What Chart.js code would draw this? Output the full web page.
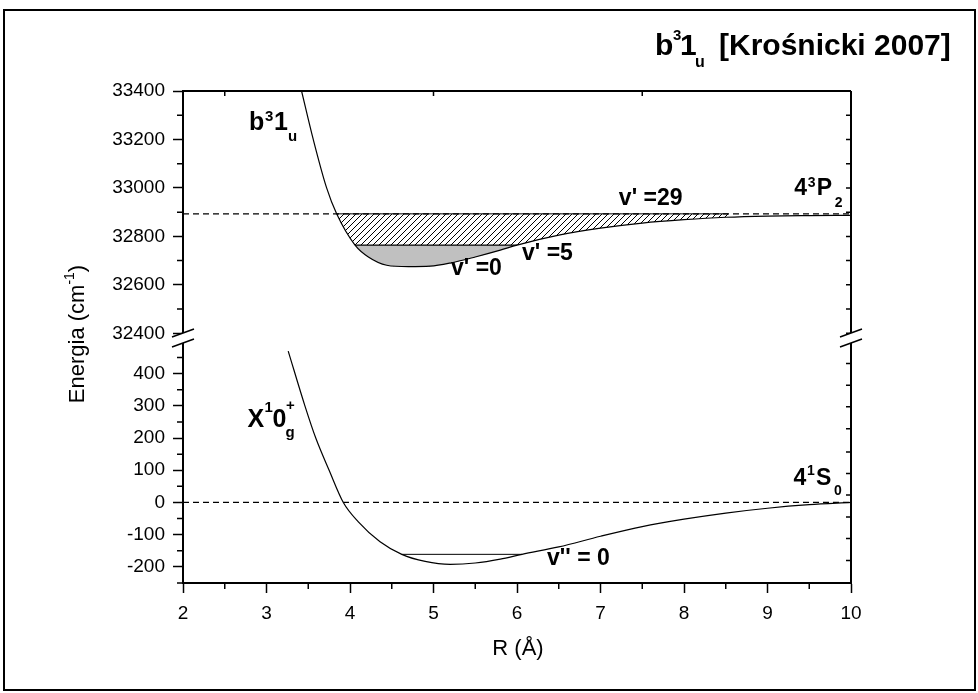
<!DOCTYPE html>
<html>
<head>
<meta charset="utf-8">
<title>b3 1u [Krośnicki 2007]</title>
<script src="https://cdn.jsdelivr.net/npm/chart.js@4.4.1/dist/chart.umd.min.js"></script>
<style>
  html, body { margin: 0; padding: 0; background: #fff; }
  canvas { display: block; }
</style>
</head>
<body>
<canvas id="chart" width="978" height="693"></canvas>
<script>
// b3 1u potential, upper panel (R in Angstrom, energy in cm-1)
const upperR = [3.42, 3.56, 3.72, 3.84, 4.06, 4.22, 4.44, 4.7, 4.96, 5.2, 5.5, 5.8, 6.0, 6.5, 7.0, 7.5, 8.0, 8.5, 9.0, 9.5, 10];
const upperE = [33400, 33200, 33000, 32893, 32764, 32715, 32681, 32675, 32677, 32690, 32715, 32743, 32764, 32805, 32834, 32855, 32869, 32879, 32884, 32886, 32887];

// X1 0g+ potential, lower panel
const lowerR = [3.26, 3.46, 3.59, 3.75, 3.92, 4.1, 4.36, 4.62, 4.9, 5.2, 5.5, 5.8, 6.06, 6.5, 7.0, 7.5, 8.0, 8.5, 9.0, 9.5, 10];
const lowerE = [470, 300, 200, 100, 0, -60, -122, -161, -183, -192, -188, -176, -161, -138, -105, -75, -52, -33, -18, -7, 0];

// asymptotes (4 3P2 and 4 1S0)
const limitR = [2, 10];
const upperLimit = 32893;
const lowerLimit = 0;

// vibrational levels
const v29R = [3.84, 8.53];
const v29E = 32893;
const v5R = [4.06, 6.0];
const v5E = 32764;
const v0ppR = [4.62, 6.06];
const v0ppE = -161;

// ticks
const xTicks = [2, 3, 4, 5, 6, 7, 8, 9, 10];
const xMinor = [2.5, 3.5, 4.5, 5.5, 6.5, 7.5, 8.5, 9.5];
const topTicks = [2.5, 5, 7.5];
const upperTicks = [32400, 32600, 32800, 33000, 33200, 33400];
const upperMinor = [32500, 32700, 32900, 33100, 33300];
const lowerTicks = [-200, -100, 0, 100, 200, 300, 400];
const lowerMinor = [-250, -150, -50, 50, 150, 250, 350, 450];
const rightLowerTicks = [-250, -180, -112, -45, 23, 90, 157, 229, 297, 364, 431];

const FONT = '"Liberation Sans", Arial, sans-serif';

const pts = (xs, ys) => xs.map((x, i) => ({x: x, y: ys[i]}));
const flat = (xs, e) => xs.map(x => ({x: x, y: e}));

// hatch for v'=5..29 region
function makeHatch() {
    const c = document.createElement('canvas');
    c.width = 6; c.height = 6;
    const g = c.getContext('2d');
    g.strokeStyle = '#000';
    g.lineWidth = 1;
    g.beginPath();
    g.moveTo(-1, 7); g.lineTo(7, -1);
    g.moveTo(-4, 4); g.lineTo(4, -4);
    g.moveTo(2, 10); g.lineTo(10, 2);
    g.stroke();
    return g.createPattern(c, 'repeat');
}

function drawRich(ctx, x, y, parts, weight) {
    parts.forEach(p => {
        ctx.font = weight + ' ' + p.s + 'px ' + FONT;
        ctx.fillText(p.t, x + p.dx, y + p.dy);
    });
}

const decor = {
    id: 'decor',
    afterDraw(chart) {
        const ctx = chart.ctx;
        const a = chart.chartArea;
        const sx = chart.scales.x, sy = chart.scales.y, sy2 = chart.scales.y2;
        ctx.save();
        ctx.strokeStyle = '#000';
        ctx.fillStyle = '#000';

        // outer frame
        ctx.lineWidth = 2;
        ctx.strokeRect(4, 10, 971, 680);

        // top and right axis lines
        ctx.beginPath();
        ctx.moveTo(a.left, a.top); ctx.lineTo(a.right, a.top);
        ctx.moveTo(a.right, a.top); ctx.lineTo(a.right, a.bottom);
        ctx.stroke();

        // minor ticks and inner ticks
        ctx.lineWidth = 1.5;
        ctx.beginPath();
        upperMinor.forEach(v => { const p = sy.getPixelForValue(v); ctx.moveTo(a.left - 6, p); ctx.lineTo(a.left, p); });
        lowerMinor.forEach(v => { const p = sy2.getPixelForValue(v); ctx.moveTo(a.left - 6, p); ctx.lineTo(a.left, p); });
        xMinor.forEach(v => { const p = sx.getPixelForValue(v); ctx.moveTo(p, a.bottom); ctx.lineTo(p, a.bottom + 6); });
        topTicks.forEach(v => { const p = sx.getPixelForValue(v); ctx.moveTo(p, a.top); ctx.lineTo(p, a.top + 5); });
        upperTicks.concat(upperMinor).forEach(v => { const p = sy.getPixelForValue(v); ctx.moveTo(a.right - 5, p); ctx.lineTo(a.right, p); });
        rightLowerTicks.forEach(v => { const p = sy2.getPixelForValue(v); ctx.moveTo(a.right - 5, p); ctx.lineTo(a.right, p); });
        ctx.stroke();

        // axis breaks
        const yb = sy.bottom - 5;
        [a.left, a.right].forEach(xb => {
            ctx.fillStyle = '#fff';
            ctx.beginPath();
            ctx.moveTo(xb - 11, yb - 1);
            ctx.lineTo(xb + 11, yb - 9);
            ctx.lineTo(xb + 11, yb + 1);
            ctx.lineTo(xb - 11, yb + 9);
            ctx.closePath();
            ctx.fill();
            ctx.lineWidth = 1.5;
            ctx.beginPath();
            ctx.moveTo(xb - 11, yb - 1); ctx.lineTo(xb + 11, yb - 9);
            ctx.moveTo(xb - 11, yb + 9); ctx.lineTo(xb + 11, yb + 1);
            ctx.stroke();
        });

        ctx.fillStyle = '#000';
        ctx.textAlign = 'left';
        ctx.textBaseline = 'alphabetic';

        // title
        drawRich(ctx, 655, 55, [
            {t: 'b', s: 30, dx: 0, dy: 0},
            {t: '3', s: 15, dx: 18, dy: -15},
            {t: '1', s: 30, dx: 25, dy: 0},
            {t: 'u', s: 16, dx: 40, dy: 12},
            {t: '[Krośnicki 2007]', s: 30, dx: 64, dy: 0}
        ], 'bold');

        // state labels
        const at = (s, r, e) => [sx.getPixelForValue(r), s.getPixelForValue(e)];
        let p = at(sy, 2.79, 33239);
        drawRich(ctx, p[0], p[1], [
            {t: 'b', s: 25, dx: 0, dy: 0},
            {t: '3', s: 15, dx: 16, dy: -9},
            {t: '1', s: 25, dx: 25, dy: 0},
            {t: 'u', s: 15, dx: 39, dy: 11}
        ], 'bold');
        p = at(sy2, 2.772, 234);
        drawRich(ctx, p[0], p[1], [
            {t: 'X', s: 25, dx: 0, dy: 0},
            {t: '1', s: 15, dx: 17, dy: -15},
            {t: '0', s: 25, dx: 25, dy: 0},
            {t: '+', s: 15, dx: 38.5, dy: -17},
            {t: 'g', s: 15, dx: 38, dy: 10}
        ], 'bold');
        p = at(sy, 9.32, 32970);
        drawRich(ctx, p[0], p[1], [
            {t: '4', s: 23, dx: 0, dy: 0},
            {t: '3', s: 14, dx: 13.5, dy: -8},
            {t: 'P', s: 23, dx: 22.5, dy: 0},
            {t: '2', s: 14, dx: 40.5, dy: 12}
        ], 'bold');
        p = at(sy2, 9.31, 53.7);
        drawRich(ctx, p[0], p[1], [
            {t: '4', s: 23, dx: 0, dy: 0},
            {t: '1', s: 14, dx: 13.5, dy: -10},
            {t: 'S', s: 23, dx: 22.5, dy: 0},
            {t: '0', s: 14, dx: 40.5, dy: 10}
        ], 'bold');

        // vibrational level labels
        [[sy, 7.22, 32929, "v' =29"], [sy, 6.06, 32702, "v' =5"], [sy, 5.21, 32640, "v' =0"], [sy2, 6.36, -194.7, "v'' = 0"]]
            .forEach(l => {
                const q = at(l[0], l[1], l[2]);
                drawRich(ctx, q[0], q[1], [{t: l[3], s: 23, dx: 0, dy: 0}], 'bold');
            });

        // axis titles
        ctx.font = '22px ' + FONT;
        ctx.textAlign = 'center';
        ctx.fillText('R (Å)', 518, 655);

        ctx.translate(84, 334);
        ctx.rotate(-Math.PI / 2);
        ctx.textAlign = 'left';
        const yParts = [{t: 'Energia (cm', s: 22, dy: 0}, {t: '-1', s: 14, dy: -10}, {t: ')', s: 22, dy: 0}];
        let w = 0;
        yParts.forEach(q => { ctx.font = q.s + 'px ' + FONT; w += ctx.measureText(q.t).width; });
        let cx = -w / 2;
        yParts.forEach(q => {
            ctx.font = q.s + 'px ' + FONT;
            ctx.fillText(q.t, cx, q.dy);
            cx += ctx.measureText(q.t).width;
        });
        ctx.restore();
    }
};

const tickFont = {family: FONT, size: 19};
const gridOpts = {drawOnChartArea: false, tickLength: 10, color: '#000', tickWidth: 1.5};
const borderOpts = {color: '#000', width: 2};

const lineStyle = {borderColor: '#000', borderWidth: 1.2, pointRadius: 0, fill: false};

new Chart(document.getElementById('chart'), {
    type: 'line',
    data: {
        datasets: [
            Object.assign({label: 'b3 1u', data: pts(upperR, upperE), yAxisID: 'y', cubicInterpolationMode: 'monotone', order: 1}, lineStyle),
            Object.assign({label: 'X1 0g+', data: pts(lowerR, lowerE), yAxisID: 'y2', cubicInterpolationMode: 'monotone', order: 1}, lineStyle),
            Object.assign({label: '4 3P2', data: flat(limitR, upperLimit), yAxisID: 'y', borderDash: [6, 4], order: 1}, lineStyle),
            Object.assign({label: '4 1S0', data: flat(limitR, lowerLimit), yAxisID: 'y2', borderDash: [6, 4], order: 1}, lineStyle),
            Object.assign({label: "v'' = 0", data: flat(v0ppR, v0ppE), yAxisID: 'y2', order: 1}, lineStyle, {borderWidth: 1}),
            Object.assign({label: "v' = 5", data: flat(v5R, v5E), yAxisID: 'y', order: 3}, lineStyle,
                {fill: {target: 0}, backgroundColor: '#c0c0c0'}),
            Object.assign({label: "v' = 29", data: flat(v29R, v29E), yAxisID: 'y', order: 4}, lineStyle,
                {borderWidth: 1, fill: {target: 0}, backgroundColor: makeHatch()})
        ]
    },
    options: {
        responsive: false,
        animation: false,
        events: [],
        layout: {padding: {left: 0, top: 91, right: 127, bottom: 0}},
        plugins: {legend: {display: false}, tooltip: {enabled: false}},
        scales: {
            x: {
                type: 'linear', position: 'bottom', min: 2, max: 10,
                afterBuildTicks: s => { s.ticks = xTicks.map(v => ({value: v})); },
                afterFit: s => { s.height = 110; },
                ticks: {font: tickFont, color: '#000', padding: 9, maxRotation: 0, autoSkip: false, callback: v => String(v)},
                grid: gridOpts,
                border: borderOpts
            },
            y: {
                type: 'linear', position: 'left', stack: 'left', stackWeight: 252, weight: 1,
                min: 32360, max: 33400,
                afterBuildTicks: s => { s.ticks = upperTicks.map(v => ({value: v})); },
                afterFit: s => { s.width = 183; },
                ticks: {font: tickFont, color: '#000', padding: 8, autoSkip: false, callback: v => String(v)},
                grid: gridOpts,
                border: borderOpts
            },
            y2: {
                type: 'linear', position: 'left', stack: 'left', stackWeight: 240, weight: 0,
                min: -250, max: 495,
                afterBuildTicks: s => { s.ticks = lowerTicks.map(v => ({value: v})); },
                afterFit: s => { s.width = 183; },
                ticks: {font: tickFont, color: '#000', padding: 8, autoSkip: false, callback: v => String(v)},
                grid: gridOpts,
                border: borderOpts
            }
        }
    },
    plugins: [decor]
});
</script>
</body>
</html>
